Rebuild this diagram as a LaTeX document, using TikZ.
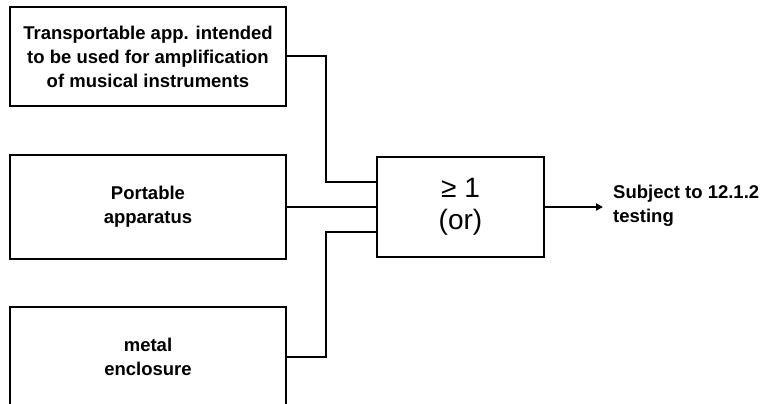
\documentclass[tikz,border=0pt]{standalone}
\usepackage{fontspec}
\setmainfont{Liberation Sans}
\usetikzlibrary{arrows.meta}
\begin{document}
\begin{tikzpicture}[x=1pt,y=-1pt,
  box/.style={draw,line width=2pt,inner sep=0pt,outer sep=0pt,anchor=north west},
  txt/.style={font=\bfseries\fontsize{18.5}{24}\selectfont,align=center},
  wire/.style={line width=2pt}]
\useasboundingbox (0,0) rectangle (766,404);
\node[box,minimum width=276pt,minimum height=99pt] (a) at (10,7) {};
\node[txt] at (a.center) {Transportable app. intended\\to be used for amplification\\of musical instruments};
\node[box,minimum width=276pt,minimum height=104pt] (b) at (10,155) {};
\node[txt] at (b.center) {Portable\\apparatus};
\draw[line width=2pt] (10,420) -- (10,307) -- (286,307) -- (286,420);
\coordinate (c) at (286,357);
\node[txt] at (148,357) {metal\\enclosure};
\node[box,minimum width=167pt,minimum height=100pt] (g) at (377,157) {};
\node[font=\fontsize{28}{32}\selectfont,align=center] at (g.center) {≥ 1\\(or)};
\coordinate (g1) at (377,182);
\coordinate (g2) at (377,207);
\coordinate (g3) at (377,232);
\draw[wire] (a.east) -| (326,182) -- (g1);
\draw[wire] (b.east) -- (g2);
\draw[wire] (c) -| (326,232) -- (g3);
\coordinate (o) at (603,207);
\draw[wire,-{Triangle[length=7pt,width=7pt]}] (g.east) -- (o);
\node[txt,align=left,anchor=west,inner sep=0pt] (s) at (613,206) {Subject to 12.1.2\\testing};
\end{tikzpicture}
\end{document}
